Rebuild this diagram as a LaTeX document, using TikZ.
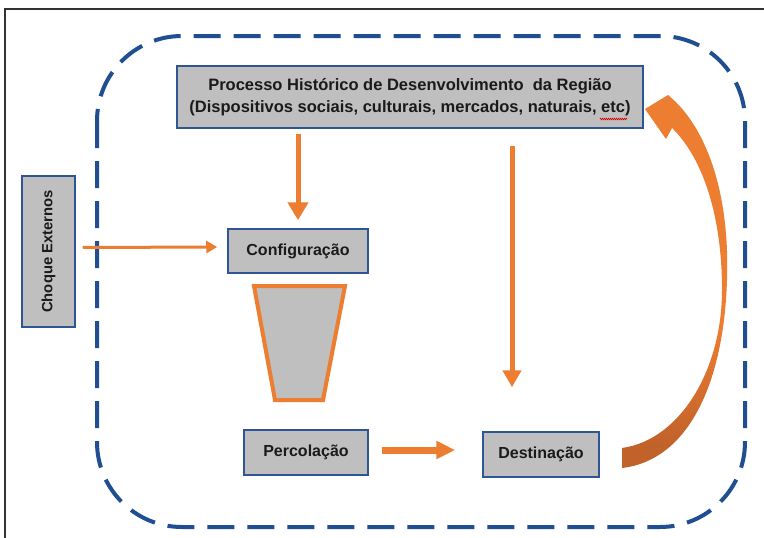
\documentclass[tikz,border=0pt]{standalone}
\usepackage{fontspec}
\setmainfont{Liberation Sans}
\usetikzlibrary{arrows.meta,decorations.pathmorphing}
\definecolor{dashblue}{HTML}{1F4E91}
\definecolor{boxblue}{HTML}{2F5597}
\definecolor{boxgray}{HTML}{BFBFBF}
\definecolor{arrorange}{HTML}{ED7D31}
\definecolor{darkor}{HTML}{C0622A}
\definecolor{txt}{HTML}{1A1A1A}
\definecolor{framecol}{HTML}{333333}
\pgfdeclareverticalshading{curvedshade}{100bp}{color(0bp)=(darkor); color(28bp)=(darkor); color(44bp)=(arrorange); color(100bp)=(arrorange)}
\begin{document}
\begin{tikzpicture}[x=1pt,y=-1pt,
  box/.style={draw=boxblue, line width=1.5pt, fill=boxgray, text=txt,
    font=\fontsize{16}{21}\selectfont\bfseries, inner sep=0pt, align=center},
  arr/.style={draw=arrorange, line width=#1},
]
\useasboundingbox (0,0) rectangle (764,538);
\fill[white] (0,0) rectangle (764,538);
% frame
\draw[framecol, line width=1.5pt] (5,538) -- (5,9) -- (764,9);
% dashed region
\draw[dashblue, line width=4pt, dash pattern=on 27pt off 13pt, rounded corners=85pt]
  (97,36) rectangle (745,527);
% nodes
\node[box, minimum width=466pt, minimum height=62pt,
  font=\fontsize{16.5}{22}\selectfont\bfseries] (top) at (410,97)
  {Processo Histórico de Desenvolvimento\ \ da Região\\(Dispositivos sociais, culturais, mercados, naturais, etc)};
\node[box, rotate=90, minimum width=151pt, minimum height=53pt,
  font=\fontsize{14.8}{18}\selectfont\bfseries] (choque) at (48.5,251.5) {Choque Externos};
\node[box, minimum width=140pt, minimum height=44pt] (config) at (298,251) {Configuração};
\node[box, minimum width=124pt, minimum height=45pt] (perc) at (306,452.5) {Percolação};
\node[box, minimum width=116pt, minimum height=45pt] (dest) at (541,454.5) {Destinação};
% spell-check underline
\draw[red!85!black, line width=0.6pt, decorate, decoration={zigzag, amplitude=0.8pt, segment length=2pt}]
  (600,119) -- (627,119);
% trapezoid
\draw[arrorange, line width=4pt, fill=boxgray, line join=miter]
  (254,286) -- (345,286) -- (323,400) -- (275,400) -- cycle;
% arrows
\draw[arr=5pt, -{Triangle[width=20pt,length=18pt]}, shorten <=5pt, shorten >=8pt]
  (top.south -| config.north) -- (config.north);
\draw[arr=3pt, -{Triangle[width=12pt,length=11pt]}]
  ([xshift=7pt,yshift=4pt]choque.south) -- ([xshift=-10pt,yshift=4pt]config.west);
\draw[arr=5pt, -{Triangle[width=18pt,length=17pt]}]
  ([xshift=102pt,yshift=-17pt]top.south) -- ([xshift=-29pt,yshift=44pt]dest.north);
\draw[arr=7pt, -{Triangle[width=17pt,length=19pt]}]
  ([xshift=13pt,yshift=2.5pt]perc.east) -- ([xshift=-27pt,yshift=4.5pt]dest.west);
% curved feedback arrow
\shade[shading=curvedshade]
  (668,95) .. controls (705,125) and (730,190) .. (727,280)
  .. controls (724,380) and (690,460) .. (622,468)
  -- (622,448)
  .. controls (680,440) and (722,370) .. (722,290)
  .. controls (722,210) and (700,155) .. (672,128)
  -- (666,139) -- (645,109) -- cycle;
\end{tikzpicture}
\end{document}
